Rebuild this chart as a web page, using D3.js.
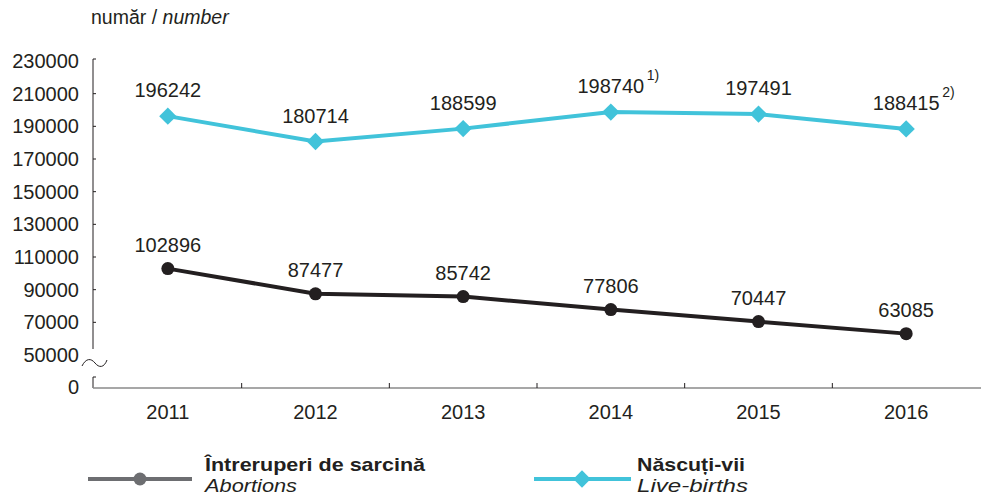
<!DOCTYPE html>
<html><head><meta charset="utf-8">
<script src="https://cdn.jsdelivr.net/npm/d3@7"></script>
<style>
body{margin:0;background:#fff;}
text{font-family:"Liberation Sans",Arial,Helvetica,sans-serif;fill:#231f20;}
</style></head>
<body><svg id="c" width="981" height="497"></svg>
<script>
const years = ["2011","2012","2013","2014","2015","2016"];
const abortions = [102896, 87477, 85742, 77806, 70447, 63085];
const births = [196242, 180714, 188599, 198740, 197491, 188415];
const birthNotes = ["", "", "", "1)", "", "2)"];
const yTicks = [50000,70000,90000,110000,130000,150000,170000,190000,210000,230000];

const svg = d3.select("#c");
const x = d3.scaleBand().domain(years).range([94, 980]);
const y = d3.scaleLinear().domain([50000, 230000]).range([355, 61]);
const cx = d => x(d) + x.bandwidth()/2;
const baseY = 388;
const axisX = 93;

// y-axis label
const lab = svg.append("text").attr("x", 91).attr("y", 24).attr("font-size", 19.5);
lab.append("tspan").text("număr / ");
lab.append("tspan").attr("font-style", "italic").text("number");

// y axis upper segment
svg.append("path").attr("d", `M${axisX+3},${y(230000)-2}H${axisX}V349`)
  .attr("stroke", "#231f20").attr("fill", "none").attr("stroke-width", 1);
svg.selectAll(".yt").data(yTicks.filter(v => v > 50000 && v < 230000)).join("line")
  .attr("x1", axisX).attr("x2", axisX + 3).attr("y1", d => y(d)).attr("y2", d => y(d))
  .attr("stroke", "#231f20");
svg.selectAll(".yl").data(yTicks).join("text")
  .attr("x", 79).attr("y", d => y(d) + 7).attr("text-anchor", "end").attr("font-size", 20)
  .text(d => d);
// zero
svg.append("text").attr("x", 79).attr("y", baseY + 6).attr("text-anchor", "end").attr("font-size", 20).text("0");
// lower segment
svg.append("path").attr("d", `M${axisX+3},377H${axisX}V${baseY}`)
  .attr("stroke", "#231f20").attr("fill", "none");
// break symbol
svg.append("path").attr("d", "M82,366 C86,358 91,358 95,363 C99,368 104,368 107,360")
  .attr("stroke", "#231f20").attr("fill", "none").attr("stroke-width", 1);

// x axis
svg.append("line").attr("x1", axisX).attr("x2", 981).attr("y1", baseY).attr("y2", baseY)
  .attr("stroke", "#8a8a8a").attr("stroke-width", 1.5);
svg.selectAll(".xt").data(years.slice(1)).join("line")
  .attr("x1", d => x(d)).attr("x2", d => x(d)).attr("y1", baseY).attr("y2", baseY - 5)
  .attr("stroke", "#231f20");
svg.selectAll(".xl").data(years).join("text")
  .attr("x", d => cx(d)).attr("y", 419).attr("text-anchor", "middle").attr("font-size", 20)
  .text(d => d);

const line = d3.line().x((d, i) => cx(years[i])).y(d => y(d));
const cyan = "#41c3da", dark = "#231f20";

svg.append("path").datum(births).attr("d", line).attr("fill", "none")
  .attr("stroke", cyan).attr("stroke-width", 4);
svg.append("path").datum(abortions).attr("d", line).attr("fill", "none")
  .attr("stroke", dark).attr("stroke-width", 4);

const diamond = d3.symbol().type(d3.symbolSquare).size(150);
svg.selectAll(".bm").data(births).join("path")
  .attr("d", diamond)
  .attr("transform", (d, i) => `translate(${cx(years[i])},${y(d)}) rotate(45)`)
  .attr("fill", cyan);
svg.selectAll(".am").data(abortions).join("circle")
  .attr("cx", (d, i) => cx(years[i])).attr("cy", d => y(d)).attr("r", 6.5).attr("fill", dark);

// value labels
svg.selectAll(".bl").data(births).join("text")
  .attr("x", (d, i) => cx(years[i])).attr("y", d => y(d) - 19)
  .attr("text-anchor", "middle").attr("font-size", 20).text(d => d);
svg.selectAll(".bn").data(births).join("text")
  .attr("x", (d, i) => cx(years[i]) + 36).attr("y", d => y(d) - 32)
  .attr("font-size", 14).text((d, i) => birthNotes[i]);
svg.selectAll(".al").data(abortions).join("text")
  .attr("x", (d, i) => cx(years[i])).attr("y", d => y(d) - 17)
  .attr("text-anchor", "middle").attr("font-size", 20).text(d => d);

// legend
const ly = 479;
function legText(xp, yp, txt, len, style) {
  const t = svg.append("text").attr("x", xp).attr("y", yp).attr("font-size", 18.5)
    .attr("textLength", len).attr("lengthAdjust", "spacingAndGlyphs").text(txt);
  if (style === "b") t.attr("font-weight", "bold");
  if (style === "i") t.attr("font-style", "italic");
}
svg.append("line").attr("x1", 88).attr("x2", 192).attr("y1", ly).attr("y2", ly)
  .attr("stroke", "#6d6e71").attr("stroke-width", 4);
svg.append("circle").attr("cx", 140).attr("cy", ly).attr("r", 6.5).attr("fill", "#6d6e71");
legText(205, 471, "Întreruperi de sarcină", 220, "b");
legText(205, 492, "Abortions", 92, "i");
svg.append("line").attr("x1", 534).attr("x2", 631).attr("y1", ly).attr("y2", ly)
  .attr("stroke", cyan).attr("stroke-width", 4);
svg.append("path").attr("d", diamond).attr("transform", `translate(582,${ly}) rotate(45)`).attr("fill", cyan);
legText(637, 471, "Născuți-vii", 108, "b");
legText(637, 492, "Live-births", 111, "i");
</script></body></html>
